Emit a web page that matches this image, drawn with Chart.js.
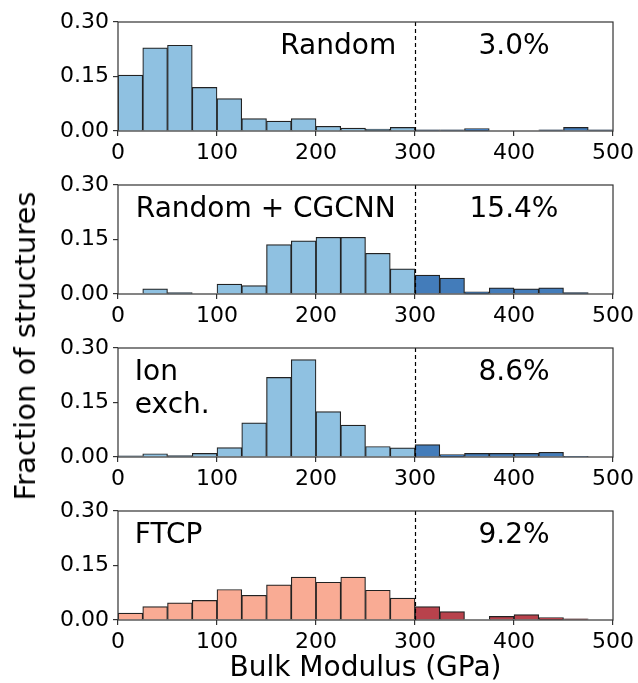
<!DOCTYPE html>
<html>
<head>
<meta charset="utf-8">
<script src="https://cdn.jsdelivr.net/npm/chart.js@4.4.1/dist/chart.umd.min.js"></script>
<style>
  body { margin: 0; background: #fff; }
  #wrap { position: relative; width: 638px; height: 683px; font-family: 'DejaVu Sans', sans-serif; }
  #wrap canvas { position: absolute; left: 0; }
  #ylabel {
    position: absolute; left: 25px; top: 346px;
    transform: translate(-50%, -50%) rotate(-90deg);
    white-space: nowrap; font-size: 29px; color: #000;
  }
</style>
</head>
<body>
<div id="wrap">
  <canvas id="c0" width="638" height="163" style="top:0px"></canvas>
  <canvas id="c1" width="638" height="163" style="top:163px"></canvas>
  <canvas id="c2" width="638" height="163" style="top:326px"></canvas>
  <canvas id="c3" width="638" height="194" style="top:489px"></canvas>
  <div id="ylabel">Fraction of structures</div>
</div>
<script>
// histogram bins (GPa), left edges, width 25
const binStart = [0, 25, 50, 75, 100, 125, 150, 175, 200, 225, 250, 275, 300, 325, 350, 375, 400, 425, 450, 475];
const binWidth = 25;
const threshold = 300;

const xTicks = [0, 100, 200, 300, 400, 500];
const yTicks = [0, 0.15, 0.30];

// fraction of structures per bin
const randomFrac = [0.154, 0.229, 0.236, 0.120, 0.089, 0.034, 0.027, 0.034, 0.013, 0.008, 0.005, 0.010, 0.003, 0.003, 0.007, 0.000, 0.000, 0.003, 0.010, 0.003];
const cgcnnFrac  = [0.000, 0.014, 0.004, 0.000, 0.027, 0.023, 0.136, 0.146, 0.156, 0.156, 0.112, 0.069, 0.052, 0.044, 0.006, 0.017, 0.014, 0.017, 0.004, 0.000];
const ionFrac    = [0.003, 0.009, 0.004, 0.010, 0.026, 0.094, 0.219, 0.268, 0.125, 0.088, 0.029, 0.025, 0.034, 0.007, 0.010, 0.010, 0.010, 0.013, 0.002, 0.000];
const ftcpFrac   = [0.019, 0.037, 0.047, 0.054, 0.084, 0.068, 0.097, 0.118, 0.104, 0.118, 0.082, 0.060, 0.037, 0.023, 0.000, 0.010, 0.015, 0.007, 0.003, 0.000];

const panelNames = [['Random'], ['Random + CGCNN'], ['Ion', 'exch.'], ['FTCP']];
const panelPct = ['3.0%', '15.4%', '8.6%', '9.2%'];

const FONT = "'DejaVu Sans', sans-serif";
const BLUE_LIGHT = '#8fc1e1';
const BLUE_DARK = '#437cba';
const RED_LIGHT = '#f9ab94';
const RED_DARK = '#b8424c';

const panels = [
    { id: 'c0', data: randomFrac, light: BLUE_LIGHT, dark: BLUE_DARK, nameX: 281, nameAlign: 'right' },
    { id: 'c1', data: cgcnnFrac,  light: BLUE_LIGHT, dark: BLUE_DARK, nameX: 18, nameAlign: 'left' },
    { id: 'c2', data: ionFrac,    light: BLUE_LIGHT, dark: BLUE_DARK, nameX: 17, nameAlign: 'left' },
    { id: 'c3', data: ftcpFrac,   light: RED_LIGHT,  dark: RED_DARK,  nameX: 17, nameAlign: 'left' }
];

// frame, threshold line and panel texts
const decorPlugin = {
    id: 'decor',
    afterDatasetsDraw(chart, args, opts) {
        const { ctx, chartArea: a, scales } = chart;
        const xs = scales.x;
        ctx.save();
        // dashed threshold
        const tx = Math.round(xs.getPixelForValue(threshold)) + 0.5;
        ctx.strokeStyle = '#000';
        ctx.lineWidth = 1.2;
        ctx.setLineDash([4, 3]);
        ctx.beginPath();
        ctx.moveTo(tx, a.top);
        ctx.lineTo(tx, a.bottom);
        ctx.stroke();
        ctx.setLineDash([]);
        // box
        ctx.strokeStyle = '#333';
        ctx.lineWidth = 1.2;
        ctx.strokeRect(a.left, a.top, a.right - a.left, a.bottom - a.top);
        // texts
        ctx.fillStyle = '#000';
        ctx.font = '28px ' + FONT;
        ctx.textBaseline = 'alphabetic';
        ctx.textAlign = opts.nameAlign;
        const nx = xs.getPixelForValue(opts.nameX);
        opts.names.forEach((t, i) => ctx.fillText(t, nx, a.top + 32 + i * 33));
        ctx.textAlign = 'center';
        ctx.fillText(opts.pct, xs.getPixelForValue(400), a.top + 32);
        ctx.restore();
    }
};

function makePanel(p, idx) {
    const canvas = document.getElementById(p.id);
    const isLast = idx === panels.length - 1;
    const H = canvas.height;
    const points = binStart.map((b, i) => ({ x: b + binWidth / 2, y: p.data[i] }));
    const colors = binStart.map(b => b >= threshold ? p.dark : p.light);

    return new Chart(canvas.getContext('2d'), {
        type: 'bar',
        data: {
            datasets: [{
                data: points,
                backgroundColor: colors,
                borderColor: '#222',
                borderWidth: 1.2,
                borderSkipped: 'start',
                barPercentage: 1.0,
                categoryPercentage: 1.0
            }]
        },
        plugins: [decorPlugin],
        options: {
            responsive: false,
            animation: false,
            layout: { padding: { top: 22, right: 23, left: 0, bottom: 0 } },
            plugins: {
                legend: { display: false },
                tooltip: { enabled: false },
                decor: { names: panelNames[idx], pct: panelPct[idx], nameX: p.nameX, nameAlign: p.nameAlign }
            },
            scales: {
                x: {
                    type: 'linear',
                    min: 0,
                    max: 500,
                    offset: false,
                    afterBuildTicks: s => { s.ticks = xTicks.map(v => ({ value: v })); },
                    afterFit: s => { s.height = H - 22 - 109; },
                    grid: { offset: false, drawOnChartArea: false, drawTicks: true, tickLength: 5, color: '#333', lineWidth: 1.2 },
                    border: { display: false },
                    ticks: {
                        color: '#000',
                        padding: 4,
                        maxRotation: 0,
                        font: { family: FONT, size: 22 },
                        callback: v => String(v)
                    },
                    title: {
                        display: isLast,
                        text: 'Bulk Modulus (GPa)',
                        color: '#000',
                        padding: { top: 0, bottom: -3 },
                        font: { family: FONT, size: 28 }
                    }
                },
                y: {
                    min: 0,
                    max: 0.30,
                    afterBuildTicks: s => { s.ticks = yTicks.map(v => ({ value: v })); },
                    afterFit: s => { s.width = 118; },
                    grid: { drawOnChartArea: false, drawTicks: true, tickLength: 5, color: '#333', lineWidth: 1.2 },
                    border: { display: false },
                    ticks: {
                        color: '#000',
                        padding: 4,
                        font: { family: FONT, size: 22 },
                        callback: v => v.toFixed(2)
                    }
                }
            }
        }
    });
}

panels.forEach(makePanel);
</script>
</body>
</html>
